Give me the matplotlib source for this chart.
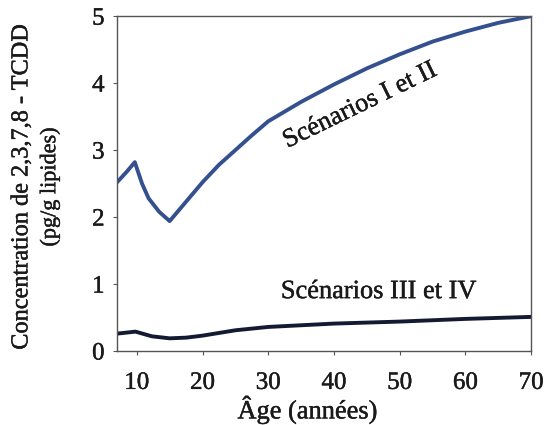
import matplotlib
matplotlib.use('Agg')
import matplotlib.pyplot as plt
import matplotlib.patheffects as pe

# Scénarios I et II (courbe bleue)
age_12 = [7, 8.5, 9.7, 10.8, 11.8, 13.4, 15, 17.5, 20, 22.5, 25, 27.5, 30,
          35, 40, 45, 50, 55, 60, 65, 70]
conc_12 = [2.52, 2.68, 2.82, 2.50, 2.28, 2.08, 1.94, 2.23, 2.52, 2.78, 3.00, 3.22, 3.43,
           3.72, 3.98, 4.22, 4.43, 4.62, 4.77, 4.90, 5.0]

# Scénarios III et IV (courbe noire)
age_34 = [7, 9.8, 12.3, 15, 17.5, 20, 25, 30, 40, 50, 60, 70]
conc_34 = [0.26, 0.29, 0.22, 0.19, 0.20, 0.23, 0.31, 0.36, 0.41, 0.44, 0.48, 0.51]

x_ticks = [10, 20, 30, 40, 50, 60, 70]
y_ticks = [0, 1, 2, 3, 4, 5]

BLUE = '#34508f'
DARK = '#151a33'
TEXT = '#1a1a1a'

plt.rcParams['font.family'] = ['Liberation Serif', 'DejaVu Serif']
heavy = [pe.withStroke(linewidth=0.3, foreground=TEXT)]

fig = plt.figure(figsize=(5.47, 4.25), dpi=100)
ax = fig.add_axes([0.214, 0.174, 0.757, 0.788])

ax.plot(age_12, conc_12, color=BLUE, lw=2.8, solid_joinstyle='round')
ax.plot(age_34, conc_34, color=DARK, lw=2.8, solid_joinstyle='round')

ax.set_xlim(7, 70)
ax.set_ylim(0, 5)
ax.set_xticks(x_ticks)
ax.set_yticks(y_ticks)
ax.tick_params(direction='out', length=3, width=0.8, labelsize=18,
               colors='#555555', labelcolor=TEXT)
ax.tick_params(axis='x', pad=12)
ax.tick_params(axis='y', pad=6)
for lab in ax.get_xticklabels() + ax.get_yticklabels():
    lab.set_path_effects(heavy)
for sp in ax.spines.values():
    sp.set_color('#555555')
    sp.set_linewidth(1.0)

ax.text(44.0, 3.66, 'Scénarios I et II', rotation=26, ha='center', va='center',
        fontsize=19, color=TEXT, path_effects=heavy)
ax.text(46.8, 0.88, 'Scénarios III et IV', ha='center', va='center',
        fontsize=19, color=TEXT, path_effects=heavy)

fig.text(0.040, 0.56, 'Concentration de 2,3,7,8 - TCDD', rotation=90,
         ha='center', va='center', fontsize=17.5, color=TEXT, path_effects=heavy)
fig.text(0.092, 0.56, '(pg/g lipides)', rotation=90,
         ha='center', va='center', fontsize=16, color=TEXT, path_effects=heavy)
fig.text(0.562, 0.035, 'Âge (années)', ha='center', va='center',
         fontsize=19, color=TEXT, path_effects=heavy)

fig.savefig('out.png', dpi=100, facecolor='white')
